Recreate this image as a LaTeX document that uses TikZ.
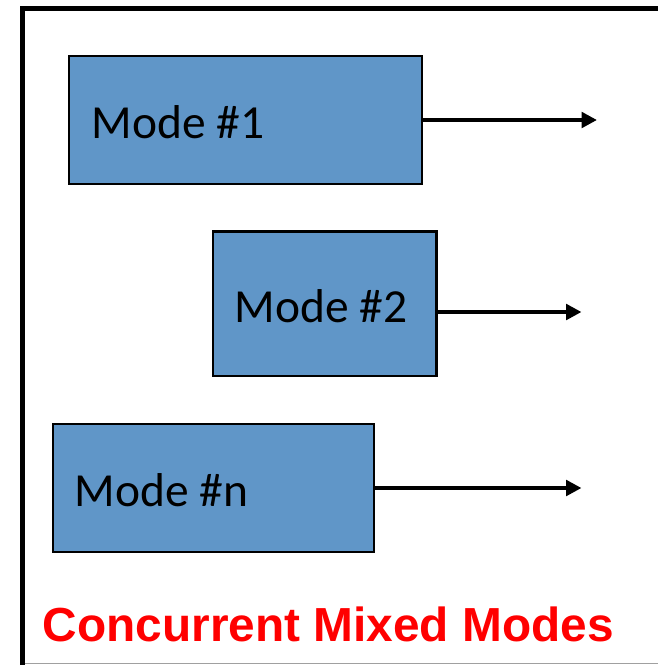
\documentclass[tikz,border=0pt]{standalone}
\usepackage{fontspec}
\setmainfont{Carlito}
\newfontfamily\titlefont{Liberation Sans}
\usetikzlibrary{arrows.meta,fit}
\definecolor{modeblue}{RGB}{96,150,200}
\definecolor{framegray}{RGB}{160,160,160}
\tikzset{
  modebox/.style={draw=black, line width=1.9pt, fill=modeblue, inner sep=0pt},
  modetext/.style={font=\fontsize{35.6pt}{40pt}\selectfont, text=black, inner sep=0pt, anchor=base west},
  titletext/.style={font=\titlefont\bfseries\fontsize{35.85pt}{40pt}\selectfont, text=red, inner sep=0pt, anchor=base west},
  conn/.style={draw=black, line width=3.5pt, -{Triangle[length=11.5pt, width=11.5pt]}},
  framestyle/.style={draw=black, line width=3.75pt},
}
\begin{document}
\begin{tikzpicture}[x=0.75pt, y=-0.75pt]
\useasboundingbox (0,0) rectangle (658,665);
% outer frame
\coordinate (fa) at (22,665);
\coordinate (fb) at (22,8);
\coordinate (fc) at (658,8);
\coordinate (fd) at (20,663.5);
\coordinate (fe) at (658,663.5);
\draw[draw=framegray, line width=0.9pt] (fd) -- (fe);
\draw[framestyle] (fa) -- (fb) -- (fc);
% boxes
\node[modebox, fit={(69,56) (422,184)}] (m1) {};
\node[modebox, fit={(213,231.5) (436.5,376)}] (m2) {};
\node[modebox, fit={(53,424) (374,552)}] (mn) {};
% texts
\node[modetext] (t1) at (91.5,138.5) {Mode \#1};
\node[modetext] (t2) at (234.5,322) {Mode \#2};
\node[modetext] (tn) at (74.5,506.5) {Mode \#n};
% arrow ends
\coordinate (e1) at (597,120);
\coordinate (e2) at (581.5,312);
\coordinate (en) at (581.5,488);
\draw[conn] (m1.east |- e1) -- (e1);
\draw[conn] (m2.east |- e2) -- (e2);
\draw[conn] (mn.east |- en) -- (en);
% title
\node[titletext] (title) at (42.5,641.7) {Concurrent Mixed Modes};
\end{tikzpicture}
\end{document}
